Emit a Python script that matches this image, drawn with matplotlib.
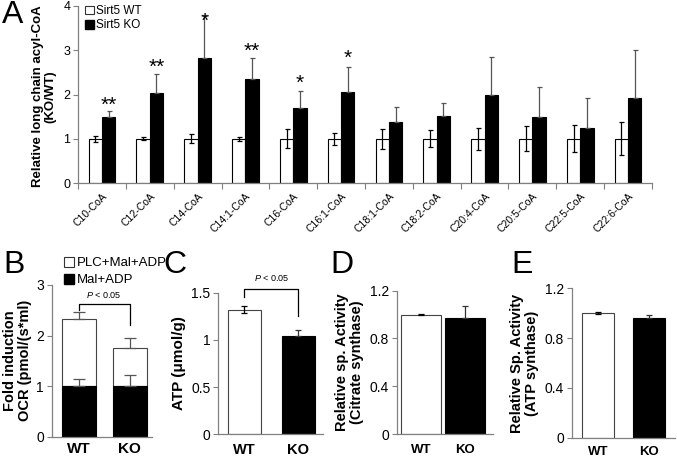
import numpy as np
import matplotlib
matplotlib.use('Agg')
import matplotlib.pyplot as plt
from matplotlib.patches import Patch

plt.rcParams['font.family'] = ['Liberation Sans', 'DejaVu Sans']
plt.rcParams['mathtext.fontset'] = 'custom'
plt.rcParams['mathtext.it'] = 'Liberation Sans:italic'
plt.rcParams['mathtext.rm'] = 'Liberation Sans'

# panel A: long chain acyl-CoA (KO/WT)
acyl_names = ['C10-CoA', 'C12-CoA', 'C14-CoA', 'C14:1-CoA', 'C16-CoA', 'C16:1-CoA',
              'C18:1-CoA', 'C18:2-CoA', 'C20:4-CoA', 'C20:5-CoA', 'C22:5-CoA', 'C22:6-CoA']
wt_mean = [1.0, 1.0, 1.0, 1.0, 1.0, 1.0, 1.0, 1.0, 1.0, 1.0, 1.0, 1.0]
wt_err = [0.07, 0.03, 0.10, 0.04, 0.22, 0.14, 0.23, 0.19, 0.25, 0.28, 0.30, 0.37]
ko_mean = [1.50, 2.04, 2.83, 2.34, 1.70, 2.05, 1.38, 1.51, 2.00, 1.49, 1.24, 1.93]
ko_err = [0.12, 0.42, 0.97, 0.48, 0.38, 0.58, 0.33, 0.30, 0.84, 0.68, 0.68, 1.07]
stars = ['**', '**', '*', '**', '*', '*', '', '', '', '', '', '']
star_y = [1.91, 2.77, 3.82, 3.14, 2.40, 2.98, 0, 0, 0, 0, 0, 0]

# panel B: OCR
genotypes = ['WT', 'KO']
mal_adp = [1.0, 1.0]
mal_adp_err = [0.15, 0.22]
plc_total = [2.32, 1.75]
plc_total_err = [0.15, 0.21]

# panel C: ATP
atp = [1.32, 1.04]
atp_err = [0.04, 0.07]

# panel D: citrate synthase
cs = [1.0, 0.975]
cs_err = [0.005, 0.10]

# panel E: ATP synthase
atps = [1.0, 0.96]
atps_err = [0.01, 0.025]

GRAY = '#808080'
W, H = 677, 457

fig = plt.figure(figsize=(6.77, 4.57), dpi=100)


def px_axes(x0, y0, x1, y1):
    return fig.add_axes([x0 / W, 1 - y1 / H, (x1 - x0) / W, (y1 - y0) / H])


def style(ax, tick_size=10):
    for s in ['top', 'right']:
        ax.spines[s].set_visible(False)
    for s in ['left', 'bottom']:
        ax.spines[s].set_color(GRAY)
        ax.spines[s].set_linewidth(0.9)
    ax.tick_params(axis='y', direction='out', length=3.5, width=0.8,
                   color=GRAY, labelsize=tick_size, pad=2)


# ---------- A ----------
axA = px_axes(78, 6, 652, 183)
style(axA, 9)
xc = np.arange(len(acyl_names)) + 0.5
bw = 0.28
axA.bar(xc - bw / 2, wt_mean, bw, color='white', edgecolor='black', linewidth=0.8)
axA.bar(xc + bw / 2, ko_mean, bw, color='black', edgecolor='black', linewidth=0.8)
axA.errorbar(xc - bw / 2, wt_mean, yerr=wt_err, fmt='none', ecolor='black',
             elinewidth=0.9, capsize=1.8, capthick=0.9)
axA.errorbar(xc + bw / 2, ko_mean, yerr=[np.zeros(len(ko_err)), ko_err], fmt='none',
             ecolor='#555555', elinewidth=0.9, capsize=1.8, capthick=0.9)
for x, s, y in zip(xc, stars, star_y):
    if s:
        axA.annotate(s, (x + bw / 2, y), xytext=(0, -9), textcoords='offset points',
                     ha='center', va='baseline', fontsize=15)
axA.set_xlim(0, len(acyl_names))
axA.set_ylim(0, 4)
axA.set_yticks([0, 1, 2, 3, 4])
axA.set_xticks(xc)
axA.set_xticklabels(acyl_names, rotation=45, ha='right', va='top',
                    rotation_mode='anchor', fontsize=7.5)
axA.tick_params(axis='x', length=0, pad=6)
axA.set_xticks(np.arange(len(acyl_names) + 1), minor=True)
axA.tick_params(axis='x', which='minor', length=4, color=GRAY, width=0.8)
axA.set_ylabel('Relative long chain acyl-CoA\n(KO/WT)', fontsize=9.5,
               fontweight='bold', linespacing=1.1)
axA.yaxis.set_label_coords(-0.037, 0.49)
axA.legend(handles=[Patch(facecolor='white', edgecolor='#333333', linewidth=0.8),
                    Patch(facecolor='black', edgecolor='black')],
           labels=['Sirt5 WT', 'Sirt5 KO'], loc='upper left',
           bbox_to_anchor=(85 / W, 1 - 5 / H), bbox_transform=fig.transFigure,
           frameon=False, fontsize=8.5, handlelength=0.75, handleheight=0.75,
           handletextpad=0.2, labelspacing=0.2, borderaxespad=0, borderpad=0)

# ---------- B ----------
axB = px_axes(51.7, 285, 152, 436.7)
style(axB)
xb = np.arange(2)
bwB = 0.67
top_part = np.array(plc_total) - np.array(mal_adp)
axB.bar(xb, top_part, bwB, bottom=mal_adp, color='white', edgecolor='#444444', linewidth=0.8)
axB.bar(xb, mal_adp, bwB, color='black', edgecolor='black', linewidth=0.8)
axB.errorbar(xb, mal_adp, yerr=[[0, 0], mal_adp_err], fmt='none', ecolor='#555555',
             elinewidth=0.9, capsize=4.5, capthick=0.9)
axB.errorbar(xb, plc_total, yerr=[[0, 0], plc_total_err], fmt='none', ecolor='#555555',
             elinewidth=0.9, capsize=4.5, capthick=0.9)
axB.set_xlim(-0.53, 1.44)
axB.set_ylim(0, 3)
axB.set_yticks([0, 1, 2, 3])
axB.set_xticks(xb)
axB.set_xticklabels(genotypes, fontsize=11, fontweight='bold')
axB.tick_params(axis='x', length=0, pad=4)
axB.set_ylabel('Fold induction\nOCR (pmol/(s*ml)', fontsize=10.5, fontweight='bold',
               labelpad=3, linespacing=1.1)
axB.plot([0, 0, 1, 1], [2.50, 2.62, 2.62, 2.21], color='black', lw=0.9, clip_on=False)
axB.text(0.5, 2.70, r'$\mathit{P}$ < 0.05', ha='center', va='bottom', fontsize=6.5)
fig.legend(handles=[Patch(facecolor='white', edgecolor='#333333', linewidth=0.8),
                    Patch(facecolor='black', edgecolor='black')],
           labels=['PLC+Mal+ADP', 'Mal+ADP'], loc='upper left',
           bbox_to_anchor=(64 / W, 1 - 257 / H), frameon=False, fontsize=9.5,
           handlelength=0.75, handleheight=0.75, handletextpad=0.25,
           labelspacing=0.35, borderaxespad=0, borderpad=0)

# ---------- C ----------
axC = px_axes(218, 292.7, 323, 434.3)
style(axC)
bwC = 0.62
axC.bar(xb, atp, bwC, color=['white', 'black'], edgecolor=['#444444', 'black'], linewidth=0.8)
axC.errorbar(xb[:1], atp[:1], yerr=atp_err[:1], fmt='none', ecolor='black',
             elinewidth=0.9, capsize=2.2, capthick=0.9)
axC.errorbar(xb[1:], atp[1:], yerr=[[0], atp_err[1:]], fmt='none', ecolor='#333333',
             elinewidth=0.9, capsize=2.2, capthick=0.9)
axC.set_xlim(-0.49, 1.46)
axC.set_ylim(0, 1.5)
axC.set_yticks([0, 0.5, 1, 1.5])
axC.set_yticklabels(['0', '0.5', '1', '1.5'])
axC.set_xticks(xb)
axC.set_xticklabels(genotypes, fontsize=10.5, fontweight='bold')
axC.tick_params(axis='x', length=0, pad=6)
axC.set_ylabel('ATP (μmol/g)', fontsize=11, fontweight='bold', labelpad=4)
axC.plot([0, 0, 1, 1], [1.45, 1.54, 1.54, 1.25], color='black', lw=0.9, clip_on=False)
axC.text(0.5, 1.60, r'$\mathit{P}$ < 0.05', ha='center', va='bottom', fontsize=6.5)

# ---------- D ----------
axD = px_axes(396.7, 290.7, 493, 434)
style(axD)
bwD = 0.9
axD.bar(xb, cs, bwD, color=['white', 'black'], edgecolor=['#444444', 'black'], linewidth=0.8)
axD.errorbar(xb[:1], cs[:1], yerr=cs_err[:1], fmt='none', ecolor='black',
             elinewidth=0.9, capsize=2, capthick=0.9)
axD.errorbar(xb[1:], cs[1:], yerr=[[0], cs_err[1:]], fmt='none', ecolor='#333333',
             elinewidth=0.9, capsize=2, capthick=0.9)
axD.set_xlim(-0.55, 1.63)
axD.set_ylim(0, 1.2)
axD.set_yticks([0, 0.4, 0.8, 1.2])
axD.set_yticklabels(['0', '0.4', '0.8', '1.2'])
axD.set_xticks(xb)
axD.set_xticklabels(genotypes, fontsize=9.5, fontweight='bold')
axD.tick_params(axis='x', length=0, pad=7)
axD.set_ylabel('Relative sp. Activity\n(Citrate synthase)', fontsize=10.5,
               fontweight='bold', labelpad=4, linespacing=1.1)

# ---------- E ----------
axE = px_axes(571.7, 288.3, 675, 437.7)
style(axE)
bwE = 0.625
axE.bar(xb, atps, bwE, color=['white', 'black'], edgecolor=['#444444', 'black'], linewidth=0.8)
axE.errorbar(xb[:1], atps[:1], yerr=atps_err[:1], fmt='none', ecolor='black',
             elinewidth=0.9, capsize=2, capthick=0.9)
axE.errorbar(xb[1:], atps[1:], yerr=[[0], atps_err[1:]], fmt='none', ecolor='#333333',
             elinewidth=0.9, capsize=2, capthick=0.9)
axE.set_xlim(-0.52, 1.5)
axE.set_ylim(0, 1.2)
axE.set_yticks([0, 0.4, 0.8, 1.2])
axE.set_yticklabels(['0', '0.4', '0.8', '1.2'])
axE.set_xticks(xb)
axE.set_xticklabels(genotypes, fontsize=9.5, fontweight='bold')
axE.tick_params(axis='x', length=0, pad=6)
axE.set_ylabel('Relative Sp. Activity\n(ATP synthase)', fontsize=10.5,
               fontweight='bold', labelpad=4, linespacing=1.1)

# panel letters
for letter, x, y in [('A', 2, 0), ('B', 3, 250), ('C', 163, 250), ('D', 330, 250), ('E', 511, 250)]:
    fig.text(x / W, 1 - y / H, letter, fontsize=23, ha='left', va='top')

fig.savefig('out.png', dpi=100)
